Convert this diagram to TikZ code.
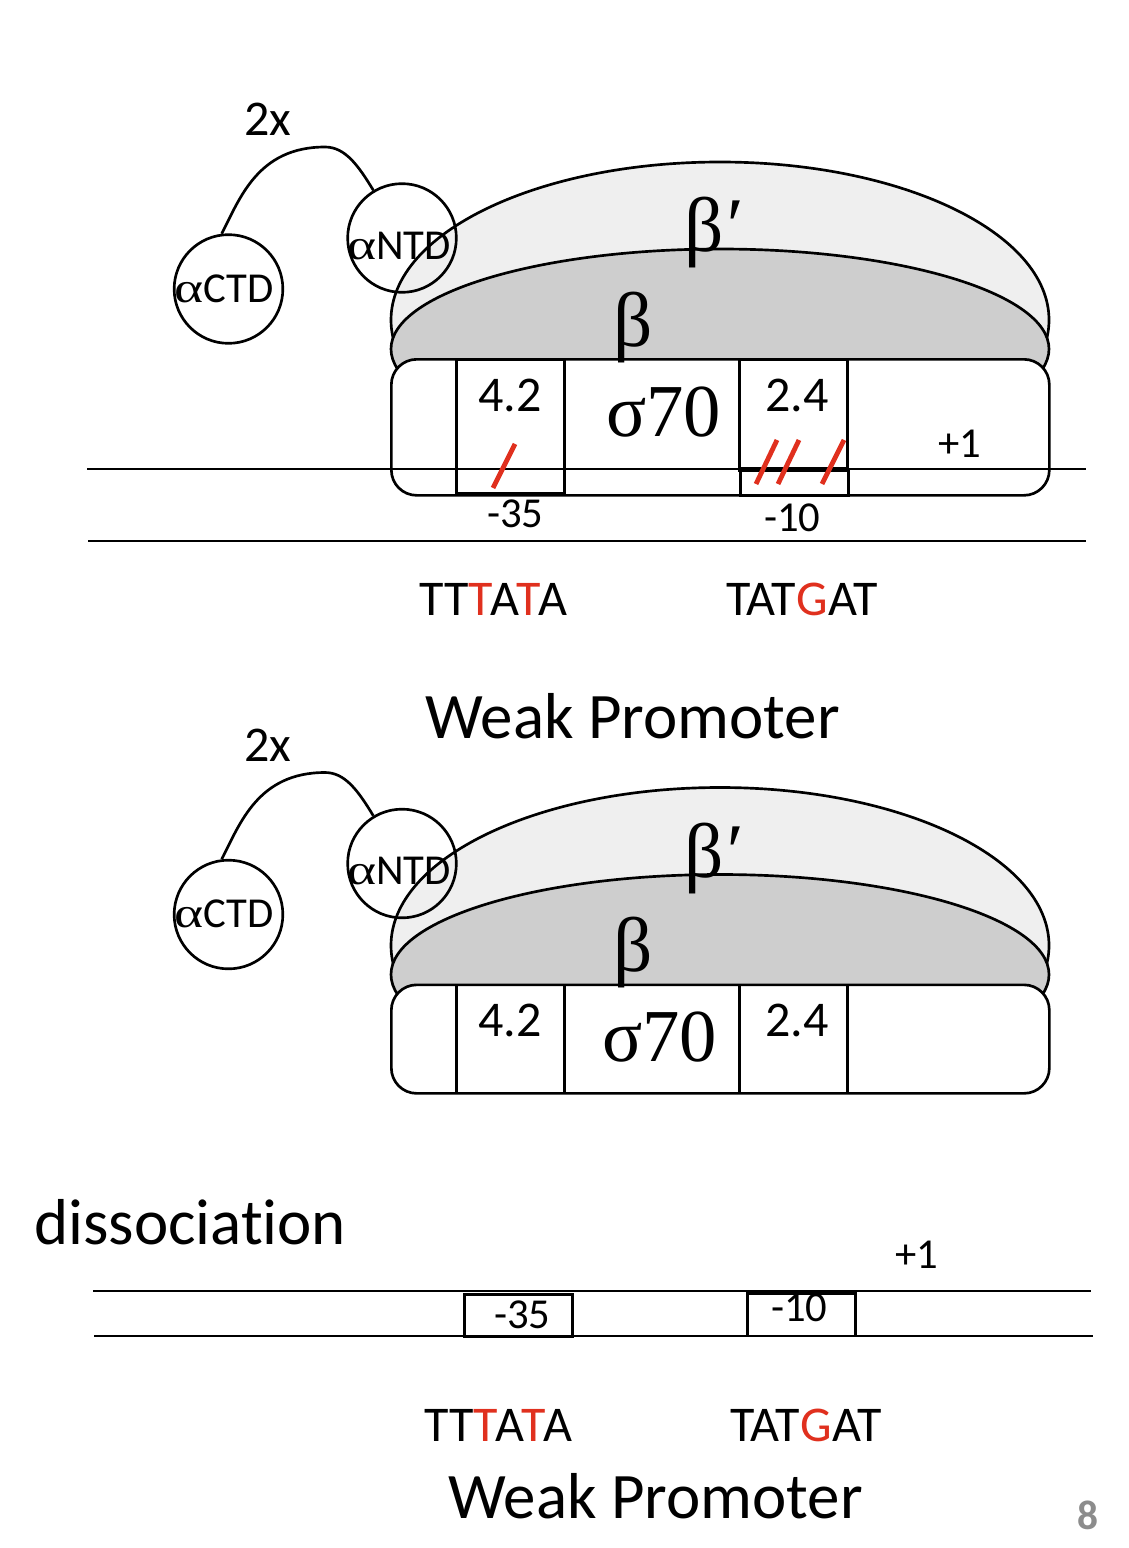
\documentclass[tikz,border=0pt]{standalone}
\usepackage{fontspec}
\setmainfont[Ligatures=NoCommon]{Carlito}
\newfontfamily\gk{Liberation Serif}
\definecolor{redm}{HTML}{E0301E}
\definecolor{betap}{HTML}{EFEFEF}
\definecolor{betag}{HTML}{CECECE}
\newcommand{\R}[1]{\textcolor{redm}{#1}}
\newcommand{\fs}[1]{\fontsize{#1}{#1}\selectfont}
\newcommand{\wa}{{\gk\scalebox{1.3}[1]{α}}}
\tikzset{
  x=0.75pt,y=-0.75pt,
  ln/.style={line width=2pt,black},
  thin box/.style={draw=black,line width=2pt,minimum width=81pt,inner sep=0pt,anchor=north west},
  txt/.style={inner sep=0pt,anchor=base west,text=black},
  big/.style={txt,font=\fs{48.7}},
  mid/.style={txt,font=\fs{37.5}},
  sml/.style={txt,font=\fs{32}},
  dom/.style={draw=black,line width=2pt,circle,minimum size=81.5pt,inner sep=0pt},
  domt/.style={txt,font=\fs{32}},
  gr/.style={txt,font=\gk\fs{58}},
  slash/.style={draw=redm,line width=3.6pt},
}
\newcommand{\polymerase}[2]{%
  \begin{scope}
    \clip (300,100) rectangle (1128,400);
    \fill[betap] (720,320) ellipse [x radius=329,y radius=158];
    \draw[ln] (720,320) ellipse [x radius=329,y radius=158];
    \draw[ln,fill=betag] (720,349) ellipse [x radius=329,y radius=100];
  \end{scope}
  \node[draw=black,line width=2pt,fill=white,rounded corners=19pt,minimum width=493.5pt,minimum height=#2,inner sep=0pt,anchor=north west] (body#1) at (390,358) {};
  \node[dom] (ctd#1) at (228.5,289) {};
  \node[dom] (ntd#1) at (402,238) {};
  \draw[ln] (ctd#1.97) .. controls (240,198) and (258,147) .. (325,147) .. controls (345,147) and (358,165) .. (ntd#1.121);
  \node[domt] (ctdl#1) at (174,302) {\wa CTD};
  \node[domt] (ntdl#1) at (347,259) {\wa NTD};
  \node[mid] (twox#1) at (244,136) {2x};
  \node[gr] (bp#1) at (684,252) {β\kern-1pt{\itshape ′}};
  \node[gr] (b#1) at (613,346) {β};
  \node[mid] (n42#1) at (478,411) {4.2};
  \node[mid] (n24#1) at (765,411) {2.4};
}
\begin{document}
\begin{tikzpicture}
\useasboundingbox (0,0) rectangle (1128,1548);
\fill[white] (0,0) rectangle (1128,1548);
% top unit
\polymerase{A}{102pt}
\node[thin box,minimum height=100.5pt] (b42A) at (455,358) {};
\node[thin box,minimum height=82pt] (b24A) at (738,358) {};
\node[thin box,minimum height=20pt] (b10A) at (739,467.5) {};
\draw[line width=2.8pt] (b24A.south west) -- (b24A.south east);
\draw[line width=2.6pt] (b42A.south west) -- (b42A.south east);
\coordinate (l1a) at (87,469); \coordinate (l1b) at (1086,469);
\coordinate (l2a) at (88,541); \coordinate (l2b) at (1086,541);
\draw[ln] (l1a) -- (l1b);
\draw[ln] (l2a) -- (l2b);
\node[txt,font=\gk\fs{56}] (sigA) at (606,436) {σ70};
\node[sml] (m35A) at (487,527) {-35};
\node[sml] (m10A) at (764,531) {-10};
\node[sml] (p1A) at (938,457) {+1};
\coordinate (s1a) at (515,444); \coordinate (s1b) at (493,488);
\coordinate (s2a) at (777,440); \coordinate (s2b) at (756,484);
\coordinate (s3a) at (799,440); \coordinate (s3b) at (778,484);
\coordinate (s4a) at (844,440); \coordinate (s4b) at (822,484);
\draw[slash] (s1a) -- (s1b);
\draw[slash] (s2a) -- (s2b);
\draw[slash] (s3a) -- (s3b);
\draw[slash] (s4a) -- (s4b);
\node[mid] (seqA1) at (419,615) {TT\R{T}\kern-.055em A\kern-.055em\R{T}\kern-.055em A};
\node[mid] (seqA2) at (726,615) {TAT\R{G}\kern.02em AT};
\node[big] (wpA) at (425,738) {Weak Promoter};
% middle unit
\begin{scope}[shift={(0,625.5)}]
\polymerase{B}{81.4pt}
\node[thin box,minimum height=81pt] (b42B) at (455,358) {};
\node[thin box,minimum height=81pt] (b24B) at (738,358) {};
\node[txt,font=\gk\fs{56}] (sigB) at (602,436) {σ70};
\end{scope}
% bottom
\node[big] (diss) at (34,1244) {dissociation};
\node[sml] (p1C) at (895,1268) {+1};
\coordinate (l3a) at (93,1291); \coordinate (l3b) at (1091,1291);
\coordinate (l4a) at (94,1336); \coordinate (l4b) at (1093,1336);
\draw[ln] (l3a) -- (l3b);
\draw[ln] (l4a) -- (l4b);
\node[thin box,minimum height=32pt] (b35C) at (463,1293) {};
\node[thin box,minimum height=32pt] (b10C) at (746,1292) {};
\node[sml] (m35C) at (494,1328) {-35};
\node[sml] (m10C) at (771,1321) {-10};
\node[mid] (seqC1) at (424,1441) {TT\R{T}\kern-.055em A\kern-.055em\R{T}\kern-.055em A};
\node[mid] (seqC2) at (730,1441) {TAT\R{G}\kern.02em AT};
\node[big] (wpC) at (448,1518) {Weak Promoter};
\node[txt,font=\fs{31}\bfseries,text=black!45] (pg) at (1077,1529) {8};
\end{tikzpicture}
\end{document}
